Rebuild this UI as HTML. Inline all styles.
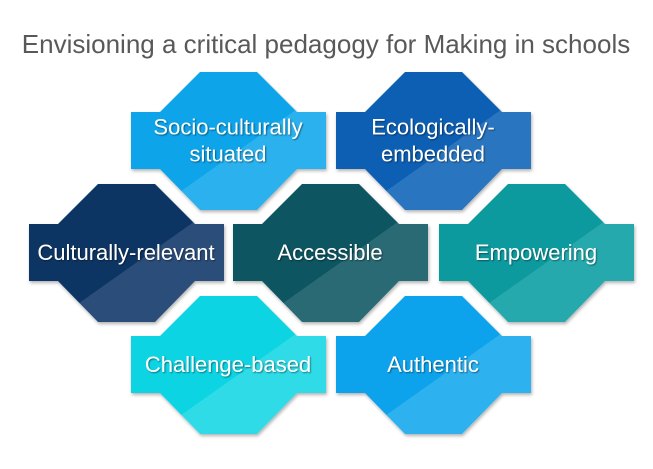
<!DOCTYPE html>
<html><head><meta charset="utf-8"><style>
body{margin:0;background:#fff;width:653px;height:469px;overflow:hidden}
svg{display:block}
text{font-family:"Liberation Sans",sans-serif}
</style></head><body>
<svg width="653" height="469" viewBox="0 0 653 469">
<defs>
<filter id="sh" x="-10%" y="-10%" width="130%" height="130%"><feDropShadow dx="1" dy="2" stdDeviation="1.5" flood-color="#000" flood-opacity="0.3"/></filter>
<filter id="ts"><feDropShadow dx="1" dy="1" stdDeviation="0.8" flood-color="#000" flood-opacity="0.45"/></filter>
</defs>
<text x="326" y="53" text-anchor="middle" font-size="26" fill="#595959">Envisioning a critical pedagogy for Making in schools</text>
<g id="shapes"></g>
</svg>
<script>
const labels=[["Socio-culturally","situated"],["Ecologically-","embedded"],["Culturally-relevant"],["Accessible"],["Empowering"],["Challenge-based"],["Authentic"]];
const colors=["#0ea4ea","#0b5fb3","#0c3563","#0a5561","#079a9f","#0bd4e2","#0fa3ec"];
const lights=["#2bb1ee","#2a75bf","#2b4d79","#2a6b75","#28a9ad","#2fdbe6","#2fb1ef"];
const centers=[[228,141],[433,141],[126,253],[330,253],[536,253],[228,365],[433,365]];
const names=["socio-culturally-situated","ecologically-embedded","culturally-relevant","accessible","empowering","challenge-based","authentic"];
const g=document.getElementById('shapes');
const defs=document.querySelector('defs');
const NS="http://www.w3.org/2000/svg";
centers.forEach((c,i)=>{
  const [cx,cy]=c;
  const gr=document.createElementNS(NS,'linearGradient');
  gr.id='g'+i;gr.setAttribute('x1','0');gr.setAttribute('y1','0');gr.setAttribute('x2','1');gr.setAttribute('y2','1');
  gr.innerHTML=`<stop offset="0" stop-color="${colors[i]}"/><stop offset="0.56" stop-color="${colors[i]}"/><stop offset="0.56" stop-color="${lights[i]}"/><stop offset="0.85" stop-color="${lights[i]}"/><stop offset="1" stop-color="${colors[i]}"/>`;
  defs.appendChild(gr);
  const pts=[[cx-28,cy-69],[cx+29,cy-69],[cx+69,cy-29],[cx+98,cy-29],[cx+98,cy+28],[cx+69,cy+28],[cx+29,cy+69],[cx-28,cy+69],[cx-68,cy+28],[cx-97,cy+28],[cx-97,cy-29],[cx-68,cy-29]];
  const p=document.createElementNS(NS,'polygon');
  p.setAttribute('points',pts.map(q=>q.join(',')).join(' '));
  p.setAttribute('fill','url(#g'+i+')');
  p.setAttribute('filter','url(#sh)');
  
  
  g.appendChild(p);
  const L=labels[i];
  L.forEach((s,k)=>{
    const t=document.createElementNS(NS,'text');
    t.setAttribute('x',cx);
    t.setAttribute('y',cy+7+(k-(L.length-1)/2)*27);
    t.setAttribute('text-anchor','middle');t.setAttribute('font-size','22');t.setAttribute('fill','#fff');
    t.setAttribute('filter','url(#ts)');
    t.textContent=s;
    
    
    g.appendChild(t);
  });
});
</script>
</body></html>
